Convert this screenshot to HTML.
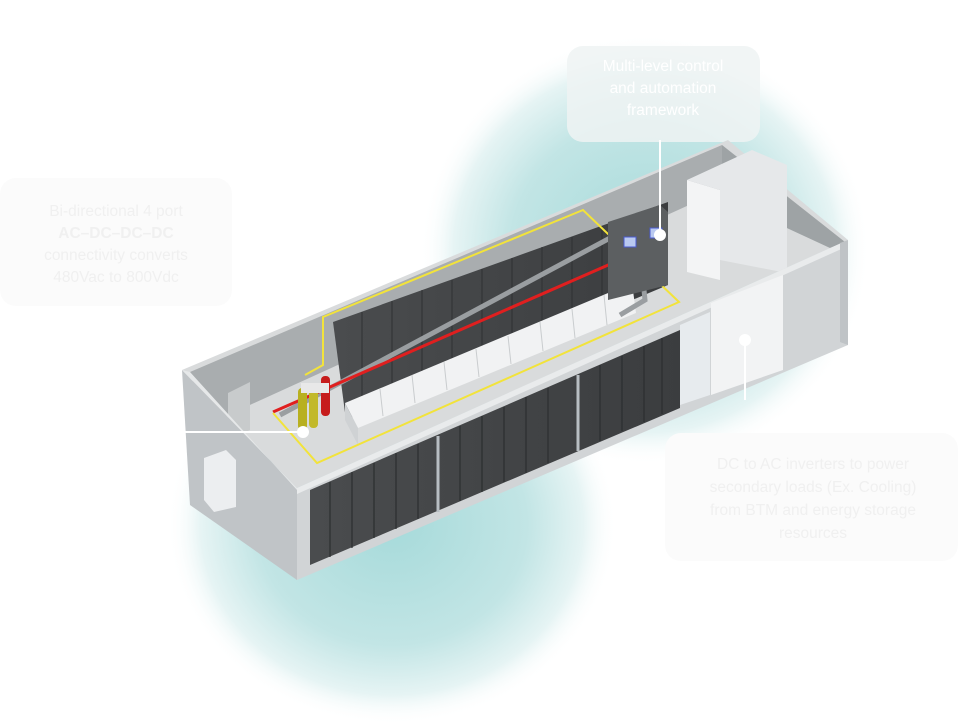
<!DOCTYPE html>
<html><head><meta charset="utf-8"><style>
html,body{margin:0;padding:0;background:#fff;}
body{width:958px;height:723px;overflow:hidden;font-family:"Liberation Sans",sans-serif;}
</style></head><body>
<svg width="958" height="723" viewBox="0 0 958 723" xmlns="http://www.w3.org/2000/svg">
<defs>
<radialGradient id="g1" cx="0.5" cy="0.5" r="0.5">
<stop offset="0" stop-color="#a6dada"/><stop offset="0.6" stop-color="#c2e5e5"/><stop offset="0.85" stop-color="#e6f4f4"/><stop offset="1" stop-color="#fff" stop-opacity="0"/></radialGradient>
<linearGradient id="cab" x1="0" y1="0" x2="1" y2="0"><stop offset="0" stop-color="#4a4c4e"/><stop offset="1" stop-color="#3b3d3f"/></linearGradient>
</defs>
<rect width="958" height="723" fill="#fff"/>
<ellipse cx="645" cy="250" rx="225" ry="215" fill="url(#g1)"/>
<ellipse cx="392" cy="525" rx="225" ry="200" fill="url(#g1)"/>

<!-- labels -->
<rect x="567" y="46" width="193" height="96" rx="16" fill="#eef3f3" opacity="0.85"/>
<g font-size="15.5" fill="#fff" text-anchor="middle">
<text x="663" y="71">Multi-level control</text>
<text x="663" y="93">and automation</text>
<text x="663" y="115">framework</text>
</g>
<rect x="0" y="178" width="232" height="128" rx="16" fill="#fbfbfb"/>
<g font-size="15.5" fill="#f0f0f0" text-anchor="middle">
<text x="116" y="216">Bi-directional 4 port</text>
<text x="116" y="238" font-weight="bold">AC–DC–DC–DC</text>
<text x="116" y="260">connectivity converts</text>
<text x="116" y="282">480Vac to 800Vdc</text>
</g>
<rect x="665" y="433" width="293" height="128" rx="16" fill="#fbfbfb"/>
<g font-size="15.5" fill="#f0f0f0" text-anchor="middle">
<text x="813" y="469">DC to AC inverters to power</text>
<text x="813" y="492">secondary loads (Ex. Cooling)</text>
<text x="813" y="515">from BTM and energy storage</text>
<text x="813" y="538">resources</text>
</g>

<!-- interior floor -->
<polygon points="182,370 728,140 848,240 297,488" fill="#d9dbdc"/>
<!-- back wall interior -->
<polygon points="190,372 722,145 722,198 700,200 206,425" fill="#a9adaf"/>
<polygon points="722,145 845,242 830,248 722,198" fill="#9ea3a5"/>
<!-- door -->
<polygon points="228,393 250,382 250,430 228,440" fill="#c8cbcc"/>
<!-- back cabinets row -->
<polygon points="333,322 668,202 668,285 346,420" fill="url(#cab)"/>
<g stroke="#2f3133" stroke-width="1">
<line x1="362" y1="312" x2="362" y2="413"/><line x1="392" y1="301" x2="392" y2="400"/><line x1="422" y1="290" x2="422" y2="388"/><line x1="452" y1="280" x2="452" y2="375"/><line x1="482" y1="269" x2="482" y2="362"/><line x1="512" y1="258" x2="512" y2="350"/><line x1="542" y1="247" x2="542" y2="337"/><line x1="572" y1="237" x2="572" y2="325"/><line x1="602" y1="226" x2="602" y2="312"/><line x1="632" y1="215" x2="632" y2="300"/>
</g>
<!-- white racks row -->
<polygon points="345,403 632,283 636,313 358,428" fill="#f1f2f3"/>
<polygon points="345,403 358,428 358,445 345,420" fill="#cfd2d4"/>
<g stroke="#c9ccce" stroke-width="1">
<line x1="380" y1="389" x2="383" y2="416"/><line x1="412" y1="375" x2="415" y2="403"/><line x1="444" y1="362" x2="447" y2="390"/><line x1="476" y1="349" x2="479" y2="377"/><line x1="508" y1="336" x2="511" y2="364"/><line x1="540" y1="322" x2="543" y2="351"/><line x1="572" y1="309" x2="575" y2="338"/><line x1="604" y1="295" x2="607" y2="325"/>
</g>
<!-- gray pipe loop -->
<polyline points="280,415 610,238 640,250 645,300 620,315" fill="none" stroke="#9a9ea1" stroke-width="5"/>
<!-- red line -->
<line x1="273" y1="412" x2="631" y2="255" stroke="#e01f1f" stroke-width="3"/>
<!-- yellow loop -->
<polyline points="273,413 317,463 679,302 583,210 323,317 323,365 305,375" fill="none" stroke="#f2e33a" stroke-width="2"/>
<!-- tanks -->
<rect x="298" y="388" width="9" height="42" rx="4" fill="#b8b020"/>
<rect x="309" y="386" width="9" height="42" rx="4" fill="#c2b92a"/>
<rect x="321" y="376" width="9" height="40" rx="4" fill="#c61c1c"/>
<rect x="301" y="383" width="28" height="10" fill="#e8e8e8"/>
<!-- right units -->
<polygon points="720,190 687,180 752,150 787,165 787,273 720,260" fill="#e6e8ea"/>
<polygon points="687,180 720,190 720,280 687,272" fill="#f3f4f5"/>
<polygon points="791,275 830,262 832,343 791,346" fill="#45484a"/>
<polygon points="608,222 660,205 668,212 668,285 608,300" fill="#5c5f61"/>
<rect x="624" y="237" width="12" height="10" fill="#b9c9f0" stroke="#4a5bd0"/>
<rect x="650" y="228" width="12" height="10" fill="#b9c9f0" stroke="#4a5bd0"/>

<!-- front wall -->
<polygon points="297,488 848,240 848,345 297,580" fill="#d1d4d6"/>
<polygon points="297,488 848,240 848,246 297,494" fill="#e9ebec"/>
<polygon points="680,325 710,312 710,395 680,405" fill="#e7ebee"/>
<polygon points="711,303 783,275 783,370 711,395" fill="#f2f3f4"/>
<!-- front cabinets -->
<polygon points="310,490 680,330 680,408 310,565" fill="url(#cab)"/>
<g stroke="#2c2e30" stroke-width="1.2">
<line x1="330" y1="482" x2="330" y2="557"/><line x1="352" y1="472" x2="352" y2="548"/><line x1="374" y1="463" x2="374" y2="538"/><line x1="396" y1="453" x2="396" y2="529"/><line x1="418" y1="444" x2="418" y2="519"/>
<line x1="460" y1="426" x2="460" y2="501"/><line x1="482" y1="416" x2="482" y2="492"/><line x1="504" y1="407" x2="504" y2="482"/><line x1="526" y1="397" x2="526" y2="473"/><line x1="548" y1="388" x2="548" y2="463"/>
<line x1="600" y1="365" x2="600" y2="441"/><line x1="622" y1="356" x2="622" y2="431"/><line x1="644" y1="346" x2="644" y2="422"/><line x1="662" y1="338" x2="662" y2="414"/>
</g>
<g stroke="#b8bec3" stroke-width="3">
<line x1="438" y1="436" x2="438" y2="512"/><line x1="578" y1="375" x2="578" y2="451"/>
</g>
<!-- left end wall -->
<polygon points="182,370 297,488 297,580 190,505" fill="#c0c4c7"/>
<polygon points="182,370 190,372 297,490 297,488" fill="#e6e8e9"/>
<polygon points="204,458 226,450 236,460 236,507 214,512 204,500" fill="#eceef0"/>
<polygon points="840,243 848,240 848,345 840,342" fill="#bfc3c6"/>

<!-- connectors -->
<g stroke="#fff" stroke-width="2" fill="#fff">
<line x1="660" y1="140" x2="660" y2="233"/><circle cx="660" cy="235" r="5"/>
<line x1="185" y1="432" x2="302" y2="432"/><circle cx="303" cy="432" r="5"/>
<line x1="745" y1="340" x2="745" y2="400"/><circle cx="745" cy="340" r="5"/>
</g>
</svg>
</body></html>
